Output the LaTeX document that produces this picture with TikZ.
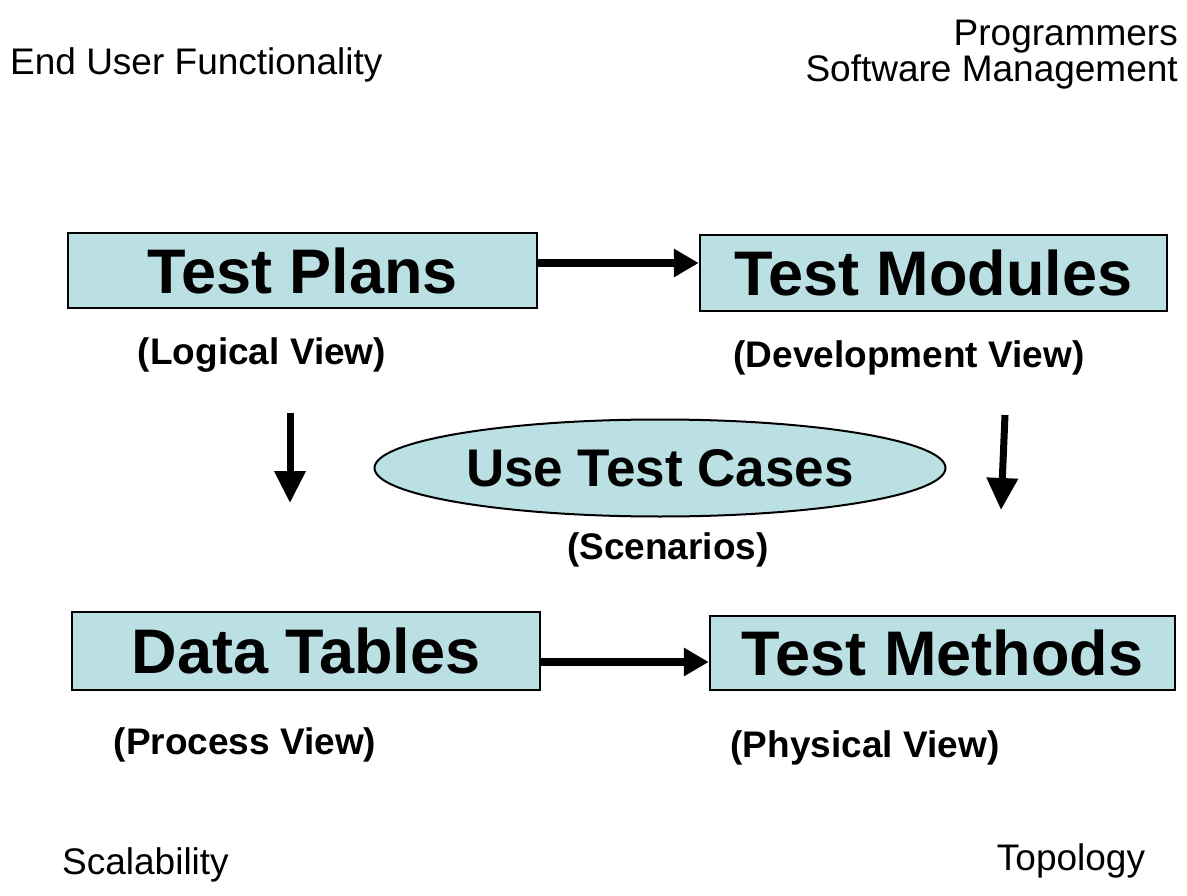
\documentclass[tikz,border=0pt]{standalone}
\usepackage{fontspec}
\setmainfont{Liberation Sans}
\usepackage{xcolor}
\usetikzlibrary{positioning,shapes,arrows.meta}

\definecolor{viewfill}{RGB}{187,224,227}

\tikzset{
  viewbox/.style={rectangle, draw, line width=2.5pt, fill=viewfill, inner sep=0pt,
    font=\fontsize{63}{70}\selectfont\bfseries},
  viewlabel/.style={inner sep=0pt, font=\fontsize{37}{40}\selectfont\bfseries},
  corner/.style={inner sep=0pt, font=\fontsize{37}{34}\selectfont},
  flow/.style={-{Triangle[length=25pt,width=27pt]}, line width=8pt},
  drop/.style={-{Triangle[length=32pt,width=30pt]}, line width=7pt},
}

\begin{document}
\begin{tikzpicture}[x=1pt, y=-1pt]
    \useasboundingbox (0,0) rectangle (1187,896);

    % corner notes
    \node [corner, anchor=west] (enduser) at (10,65) {End User Functionality};
    \node [corner, anchor=north east, align=right] (programmers) at (1178,20) {Programmers\\Software Management};
    \node [corner, anchor=west] (scalability) at (62,865) {Scalability};
    \node [corner] (topology) at (1071,861) {Topology};

    % the four views
    \node [viewbox, minimum width=469pt, minimum height=75pt] (plans) at (302.5,270.5) {Test Plans};
    \node [viewbox, minimum width=467pt, minimum height=76pt] (modules) at (933.5,273) {Test Modules};
    \node [viewbox, minimum width=468pt, minimum height=78pt] (tables) at (306,651) {Data Tables};
    \node [viewbox, minimum width=465pt, minimum height=74pt] (methods) at (942.5,653) {Test Methods};

    \node [viewlabel] (logical) at (262,355) {(Logical View)};
    \node [viewlabel] (development) at (909,358) {(Development View)};
    \node [viewlabel] (process) at (245,745) {(Process View)};
    \node [viewlabel] (physical) at (865,748) {(Physical View)};

    % scenarios in the middle
    \node [ellipse, draw, line width=2pt, fill=viewfill, inner sep=0pt, minimum width=571pt, minimum height=97pt,
      font=\fontsize{53}{60}\selectfont\bfseries] (cases) at (660,468) {Use Test Cases};
    \node [viewlabel] (scenarios) at (668,550) {(Scenarios)};

    \coordinate (ltop) at (290,413);
    \coordinate (lbot) at (290,503);
    \coordinate (rtop) at (1005,415);
    \coordinate (rbot) at (1001,510);

    \draw [flow] ([yshift=7.5pt]plans.east) -- ([yshift=10pt]modules.west);
    \draw [flow] ([yshift=-11pt]tables.east) -- ([yshift=-9pt]methods.west);
    \draw [drop] (ltop) -- (lbot);
    \draw [drop] (rtop) -- (rbot);
\end{tikzpicture}
\end{document}
